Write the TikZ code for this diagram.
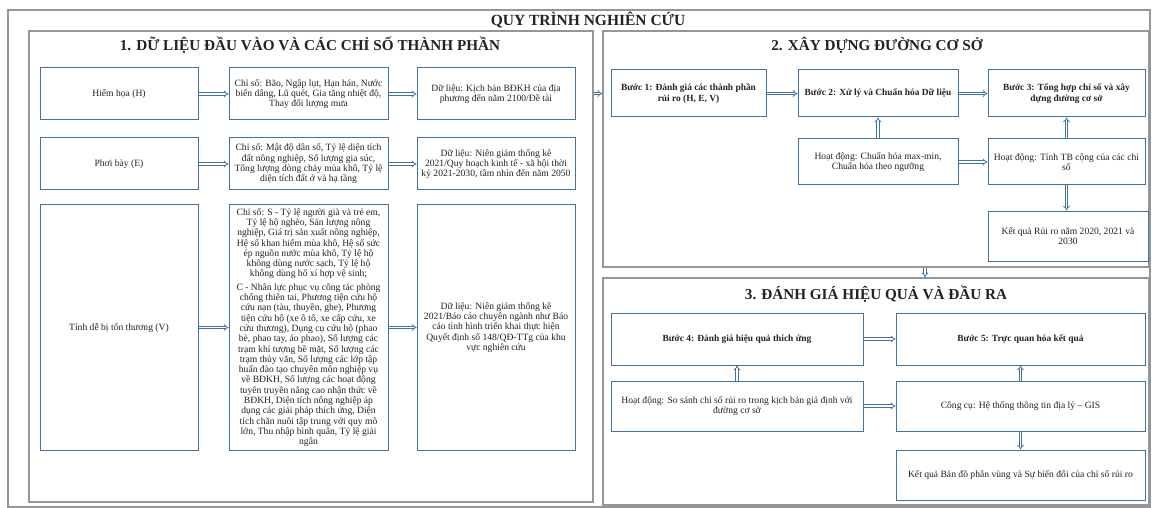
\documentclass[tikz,border=0pt]{standalone}
\usepackage{fontspec}
\setmainfont{Liberation Serif}
\usetikzlibrary{arrows.meta,calc}
\definecolor{bl}{RGB}{65,113,156}
\definecolor{fr}{RGB}{150,150,150}
\definecolor{tx}{RGB}{35,35,35}
\tikzset{
 box/.style={draw=bl, line width=1pt, fill=white, align=center, inner xsep=0.5pt, inner ysep=1pt, text=tx, font=\fontsize{9.6}{10.3}\selectfont},
 bbox/.style={box, font=\fontsize{9.4}{10.5}\selectfont\bfseries},
 panel/.style={draw=fr, line width=1.5pt, inner sep=0pt},
 ptitle/.style={font=\fontsize{15.2}{17}\selectfont\bfseries, text=tx},
 arr/.style={draw=bl, line width=0.7pt, double=white, double distance=1.7pt, -{Implies[scale=1.25]}},
}
\newcommand\bx[7][box]{%
 \pgfmathsetmacro\bxw{#5-#3}\pgfmathsetmacro\bxh{#6-#4}%
 \pgfmathsetmacro\bxcx{(#3+#5)/2}\pgfmathsetmacro\bxcy{(#4+#6)/2}%
 \node[#1,minimum width=\bxw pt,minimum height=\bxh pt] (#2) at (\bxcx,\bxcy) {#7};}
\newcommand\pn[5]{%
 \pgfmathsetmacro\bxw{#4-#2}\pgfmathsetmacro\bxh{#5-#3}%
 \pgfmathsetmacro\bxcx{(#2+#4)/2}\pgfmathsetmacro\bxcy{(#3+#5)/2}%
 \node[panel,minimum width=\bxw pt,minimum height=\bxh pt] (#1) at (\bxcx,\bxcy) {};}
\begin{document}
\begin{tikzpicture}[x=1pt,y=-1pt]
\useasboundingbox (0,0) rectangle (1152,508);
\fill[white] (0,0) rectangle (1152,508);
\pn{outer}{8}{10}{1150}{507}
\node[font=\fontsize{15.5}{17}\selectfont\bfseries, text=tx] (T) at (588,20.5) {QUY TRÌNH NGHIÊN CỨU};
\pn{p1}{29}{31}{593}{502}
\pn{p2}{603}{31}{1149}{267}
\pn{p3}{603}{278}{1149}{505}
\node[ptitle] (t1) at (310,45) {1. DỮ LIỆU ĐẦU VÀO VÀ CÁC CHỈ SỐ THÀNH PHẦN};
\node[ptitle] (t2) at (877,45) {2. XÂY DỰNG ĐƯỜNG CƠ SỞ};
\node[ptitle] (t3) at (876,294) {3. ĐÁNH GIÁ HIỆU QUẢ VÀ ĐẦU RA};
% panel 1
\bx{h1}{40}{68}{198}{120}{Hiểm họa (H)}
\bx{c1}{229}{68}{388}{120}{Chỉ số: Bão, Ngập lụt, Hạn hán, Nước\\ biển dâng, Lũ quét, Gia tăng nhiệt độ,\\ Thay đổi lượng mưa}
\bx{d1}{417}{68}{575}{120}{Dữ liệu: Kịch bản BĐKH của địa\\ phương đến năm 2100/Đề tài}
\bx{h2}{40}{138}{198}{190}{Phơi bày (E)}
\bx{c2}{229}{138}{388}{190}{Chỉ số: Mật độ dân số, Tỷ lệ diện tích\\ đất nông nghiệp, Số lượng gia súc,\\ Tổng lượng dòng chảy mùa khô, Tỷ lệ\\ diện tích đất ở và hạ tầng}
\bx{d2}{417}{138}{575}{190}{Dữ liệu: Niên giám thống kê\\ 2021/Quy hoạch kinh tế - xã hội thời\\ kỳ 2021-2030, tầm nhìn đến năm 2050}
\bx{h3}{40}{205}{198}{450}{Tính dễ bị tổn thương (V)}
\bx{c3}{229}{205}{388}{450}{Chỉ số: S - Tỷ lệ người già và trẻ em,\\ Tỷ lệ hộ nghèo, Sản lượng nông\\ nghiệp, Giá trị sản xuất nông nghiệp,\\ Hệ số khan hiếm mùa khô, Hệ số sức\\ ép nguồn nước mùa khô, Tỷ lệ hộ\\ không dùng nước sạch, Tỷ lệ hộ\\ không dùng hố xí hợp vệ sinh;\\[3pt] C - Nhân lực phục vụ công tác phòng\\ chống thiên tai, Phương tiện cứu hộ\\ cứu nạn (tàu, thuyền, ghe), Phương\\ tiện cứu hộ (xe ô tô, xe cấp cứu, xe\\ cứu thương), Dụng cụ cứu hộ (phao\\ bè, phao tay, áo phao), Số lượng các\\ trạm khí tượng bề mặt, Số lượng các\\ trạm thủy văn, Số lượng các lớp tập\\ huấn đào tạo chuyên môn nghiệp vụ\\ về BĐKH, Số lượng các hoạt động\\ tuyên truyền nâng cao nhận thức về\\ BĐKH, Diện tích nông nghiệp áp\\ dụng các giải pháp thích ứng, Diện\\ tích chăn nuôi tập trung với quy mô\\ lớn, Thu nhập bình quân, Tỷ lệ giải\\ ngân}
\bx{d3}{417}{205}{575}{450}{Dữ liệu: Niên giám thống kê\\ 2021/Báo cáo chuyên ngành như Báo\\ cáo tình hình triển khai thực hiện\\ Quyết định số 148/QĐ-TTg của khu\\ vực nghiên cứu}
\foreach \r in {1,2,3}{
 \draw[arr] (h\r.east) -- (c\r.west);
 \draw[arr] (c\r.east) -- (d\r.west);
}
% panel 2
\bx[bbox]{s1}{611}{70}{766}{117}{Bước 1: Đánh giá các thành phần\\ rủi ro (H, E, V)}
\bx[bbox]{s2}{798}{70}{958}{117}{Bước 2: Xử lý và Chuẩn hóa Dữ liệu}
\bx[bbox]{s3}{988}{70}{1145}{117}{Bước 3: Tổng hợp chỉ số và xây\\ dựng đường cơ sở}
\bx{a2}{798}{139}{958}{185}{Hoạt động: Chuẩn hóa max-min,\\ Chuẩn hóa theo ngưỡng}
\bx{a3}{988}{139}{1145}{185}{Hoạt động: Tính TB cộng của các chỉ\\ số}
\bx{k3}{988}{211}{1148}{261}{Kết quả Rủi ro năm 2020, 2021 và\\ 2030}
\draw[arr] (s1.east) -- (s2.west);
\draw[arr] (s2.east) -- (s3.west);
\draw[arr] (a2.north) -- (s2.south);
\draw[arr] (a3.north) -- (s3.south);
\draw[arr] (a2.east) -- (a3.west);
\draw[arr] (a3.south) -- (a3.south |- k3.north);
% panel 3
\bx[bbox]{s4}{611}{313}{863}{365}{Bước 4: Đánh giá hiệu quả thích ứng}
\bx[bbox]{s5}{896}{313}{1145}{365}{Bước 5: Trực quan hóa kết quả}
\bx{h4}{611}{381}{863}{431}{Hoạt động: So sánh chỉ số rủi ro trong kịch bản giả định với\\ đường cơ sở}
\bx{c5}{896}{381}{1145}{431}{Công cụ: Hệ thống thông tin địa lý -- GIS}
\bx{k5}{896}{450}{1145}{500}{Kết quả Bản đồ phân vùng và Sự biến đổi của chỉ số rủi ro}
\draw[arr] (s4.east) -- (s5.west);
\draw[arr] (h4.north) -- (s4.south);
\draw[arr] (c5.north) -- (s5.south);
\draw[arr] (h4.east) -- (c5.west);
\draw[arr] (c5.south) -- (k5.north);
% panel links
\draw[arr] (p1.east |- s1.center) -- (p2.west |- s1.center);
\coordinate (ax) at (925,0);
\draw[arr] (p2.south -| ax) -- (p3.north -| ax);
\end{tikzpicture}
\end{document}
